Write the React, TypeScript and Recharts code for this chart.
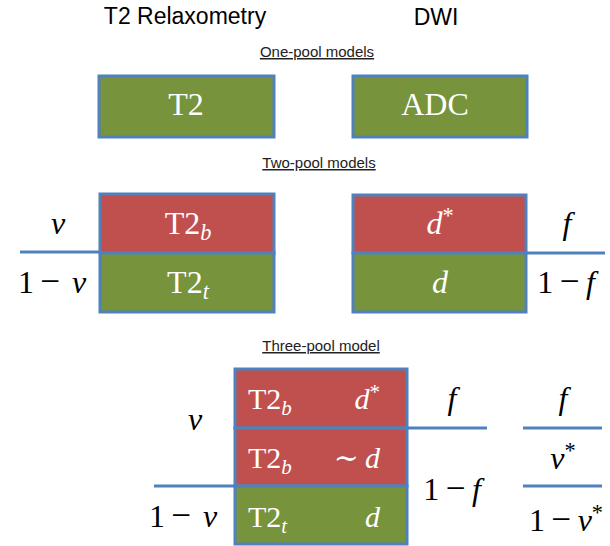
import React from 'react'
import { ScatterChart, Scatter, XAxis, YAxis, ReferenceArea, ReferenceLine } from 'recharts'

// diagram space: 610 x 546 units, y grows downward
const W = 610
const H = 546

const BLUE = '#4F81BD'
const COMPARTMENT_FILL: Record<string, string> = { fast: '#C0504D', slow: '#77933C' }
const SERIF = "'Liberation Serif', 'Times New Roman', 'DejaVu Serif', serif"
const SANS = "'Liberation Sans', Arial, Helvetica, sans-serif"

const boxes = [
  { x1: 99, x2: 274, y1: 76, y2: 137, kind: 'slow' },
  { x1: 353, x2: 527, y1: 76, y2: 137, kind: 'slow' },
  { x1: 100, x2: 274, y1: 194, y2: 253, kind: 'fast' },
  { x1: 100, x2: 274, y1: 253, y2: 312, kind: 'slow' },
  { x1: 353, x2: 526, y1: 195, y2: 253, kind: 'fast' },
  { x1: 353, x2: 526, y1: 253, y2: 312, kind: 'slow' },
  { x1: 235, x2: 407, y1: 369, y2: 428, kind: 'fast' },
  { x1: 235, x2: 407, y1: 428, y2: 486, kind: 'fast' },
  { x1: 235, x2: 407, y1: 486, y2: 544, kind: 'slow' },
]

const dividers = [
  { x1: 20, x2: 100, y: 252 },
  { x1: 526, x2: 605, y: 253 },
  { x1: 154, x2: 235, y: 486 },
  { x1: 407, x2: 487, y: 428 },
  { x1: 523, x2: 602, y: 428 },
  { x1: 523, x2: 602, y: 486 },
]

const headings = [
  { x: 185, y: 24, text: 'T2 Relaxometry' },
  { x: 436, y: 25, text: 'DWI' },
]

const sectionTitles = [
  { x: 317, y: 57, text: 'One-pool models' },
  { x: 319, y: 168, text: 'Two-pool models' },
  { x: 321, y: 351, text: 'Three-pool model' },
]

// centred labels inside boxes
const boxLabels = [
  { x: 186, y: 115, text: 'T2' },
  { x: 435, y: 115, text: 'ADC' },
  { x: 188, y: 234, text: 'T2_b' },
  { x: 188, y: 293, text: 'T2_t' },
  { x: 440, y: 234, text: 'd^*' },
  { x: 440, y: 293, text: 'd' },
]

// left-aligned and right-aligned labels in the three-pool box
const leftBoxLabels = [
  { x: 248, y: 409, text: 'T2_b' },
  { x: 248, y: 468, text: 'T2_b' },
  { x: 248, y: 527, text: 'T2_t' },
]
const rightBoxLabels = [
  { x: 380, y: 409, text: 'd^*' },
  { x: 380, y: 468, text: '∼ d' },
  { x: 380, y: 527, text: 'd' },
]

const fractions = [
  { x: 58, y: 234, text: 'ν' },
  { x: 52, y: 293, text: '1 − \u2006ν' },
  { x: 567, y: 234, text: 'f' },
  { x: 566, y: 293, text: '1 − f' },
  { x: 195, y: 430, text: 'ν' },
  { x: 183, y: 527, text: '1 − \u2006ν' },
  { x: 452, y: 409, text: 'f' },
  { x: 452, y: 500, text: '1 − f' },
  { x: 563, y: 409, text: 'f' },
  { x: 563, y: 469, text: 'ν^*' },
  { x: 566, y: 531, text: '1 − ν^*' },
]

const isItalic = (ch: string) => /[a-zν]/.test(ch)

function MathText({ x, y, text, size, anchor, color }: { x: number; y: number; text: string; size: number; anchor: 'start' | 'middle' | 'end'; color: string }) {
  const parts: { t: string; script?: 'sub' | 'sup' }[] = []
  let i = 0
  while (i < text.length) {
    const ch = text[i]
    if ((ch === '_' || ch === '^') && i + 1 < text.length) {
      parts.push({ t: text[i + 1], script: ch === '_' ? 'sub' : 'sup' })
      i += 2
    } else {
      parts.push({ t: ch })
      i += 1
    }
  }
  return (
    <text x={x} y={y} textAnchor={anchor} fill={color} style={{ fontFamily: SERIF }} fontSize={size}>
      {parts.map((p, k) => {
        if (p.script === 'sub') {
          return <tspan key={k} fontSize={size * 0.7} dy={size * 0.2} fontStyle={isItalic(p.t) ? 'italic' : 'normal'}>{p.t}</tspan>
        }
        if (p.script === 'sup') {
          return <tspan key={k} fontSize={size * 0.7} dy={-size * 0.35}>{p.t}</tspan>
        }
        if (p.t === '−') {
          return <tspan key={k} fontSize={size * 1.1}>{p.t}</tspan>
        }
        return <tspan key={k} fontStyle={isItalic(p.t) ? 'italic' : 'normal'}>{p.t === ' ' ? '\u2009' : p.t}</tspan>
      })}
    </text>
  )
}

export default function App() {
  return (
    <div style={{ position: 'fixed', left: 0, top: 0, background: '#fff' }}>
      <ScatterChart width={W} height={H} margin={{ top: 0, right: 0, bottom: 0, left: 0 }}>
        <XAxis type="number" dataKey="x" domain={[0, W]} hide />
        <YAxis type="number" dataKey="y" domain={[0, H]} reversed hide />
        {boxes.map((b, i) => (
          <ReferenceArea
            key={`b${i}`}
            x1={b.x1} x2={b.x2} y1={b.y1} y2={b.y2}
            fill={COMPARTMENT_FILL[b.kind]} fillOpacity={1}
            stroke={BLUE} strokeWidth={3}
          />
        ))}
        {dividers.map((d, i) => (
          <ReferenceLine key={`d${i}`} segment={[{ x: d.x1, y: d.y }, { x: d.x2, y: d.y }]} stroke={BLUE} strokeWidth={3} />
        ))}
        <Scatter
          data={headings}
          isAnimationActive={false}
          shape={(p: any) => (
            <text x={p.cx} y={p.cy} textAnchor="middle" style={{ fontFamily: SANS }} fontSize={23} fill="#000">
              {p.payload.text}
            </text>
          )}
        />
        <Scatter
          data={sectionTitles}
          isAnimationActive={false}
          shape={(p: any) => (
            <text x={p.cx} y={p.cy} textAnchor="middle" style={{ fontFamily: SANS }} fontSize={15} fill="#222" textDecoration="underline">
              {p.payload.text}
            </text>
          )}
        />
        <Scatter
          data={boxLabels}
          isAnimationActive={false}
          shape={(p: any) => <MathText x={p.cx} y={p.cy} text={p.payload.text} size={32} anchor="middle" color="#fff" />}
        />
        <Scatter
          data={leftBoxLabels}
          isAnimationActive={false}
          shape={(p: any) => <MathText x={p.cx} y={p.cy} text={p.payload.text} size={30} anchor="start" color="#fff" />}
        />
        <Scatter
          data={rightBoxLabels}
          isAnimationActive={false}
          shape={(p: any) => <MathText x={p.cx} y={p.cy} text={p.payload.text} size={30} anchor="end" color="#fff" />}
        />
        <Scatter
          data={fractions}
          isAnimationActive={false}
          shape={(p: any) => <MathText x={p.cx} y={p.cy} text={p.payload.text} size={32} anchor="middle" color="#000" />}
        />
      </ScatterChart>
    </div>
  )
}
